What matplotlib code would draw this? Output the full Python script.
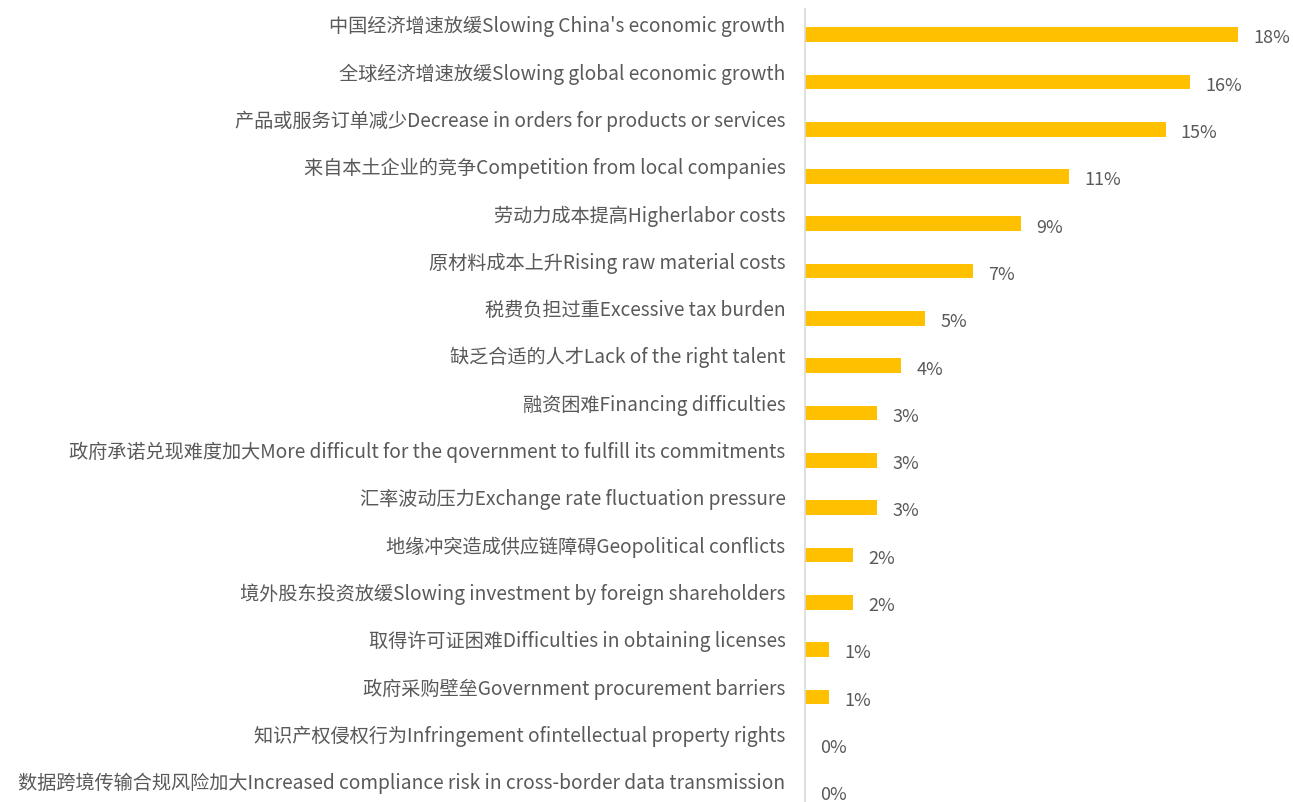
import matplotlib
matplotlib.use('Agg')
import matplotlib.pyplot as plt
import matplotlib.transforms as mtrans

plt.rcParams['font.family'] = ['Noto Sans CJK SC', 'DejaVu Sans']

labels = [
    "中国经济增速放缓Slowing China's economic growth",
    "全球经济增速放缓Slowing global economic growth",
    "产品或服务订单减少Decrease in orders for products or services",
    "来自本土企业的竞争Competition from local companies",
    "劳动力成本提高Higherlabor costs",
    "原材料成本上升Rising raw material costs",
    "税费负担过重Excessive tax burden",
    "缺乏合适的人才Lack of the right talent",
    "融资困难Financing difficulties",
    "政府承诺兑现难度加大More difficult for the qovernment to fulfill its commitments",
    "汇率波动压力Exchange rate fluctuation pressure",
    "地缘冲突造成供应链障碍Geopolitical conflicts",
    "境外股东投资放缓Slowing investment by foreign shareholders",
    "取得许可证困难Difficulties in obtaining licenses",
    "政府采购壁垒Government procurement barriers",
    "知识产权侵权行为Infringement ofintellectual property rights",
    "数据跨境传输合规风险加大Increased compliance risk in cross-border data transmission",
]
values = [18, 16, 15, 11, 9, 7, 5, 4, 3, 3, 3, 2, 2, 1, 1, 0, 0]

text_col = '#595959'
fig = plt.figure(figsize=(12.93, 8.03), dpi=100)
ax = fig.add_axes([805 / 1293, 0, 1 - 805 / 1293, 1 - 10 / 803])

ypos = list(range(len(values)))
ax.barh(ypos, values, height=0.31, color='#FFC000')
ax.set_xlim(0, 20.3)
ax.set_ylim(16.22, -0.54)

for y, v in zip(ypos, values):
    ax.annotate(f'{v}%', (v, y), xytext=(11, -2), textcoords='offset points',
                ha='left', va='center', fontsize=13, color=text_col)

ax.set_yticks(ypos)
ax.set_yticklabels(labels, fontsize=13.8, color=text_col)
ax.tick_params(axis='y', length=0, pad=14)
off = mtrans.ScaledTranslation(0, 11.5 / 100, fig.dpi_scale_trans)
for t in ax.get_yticklabels():
    t.set_transform(t.get_transform() + off)
ax.set_xticks([])
for s in ['top', 'right', 'bottom']:
    ax.spines[s].set_visible(False)
ax.spines['left'].set_color('#D9D9D9')
ax.spines['left'].set_linewidth(1.2)

fig.savefig('out.png', dpi=100)
